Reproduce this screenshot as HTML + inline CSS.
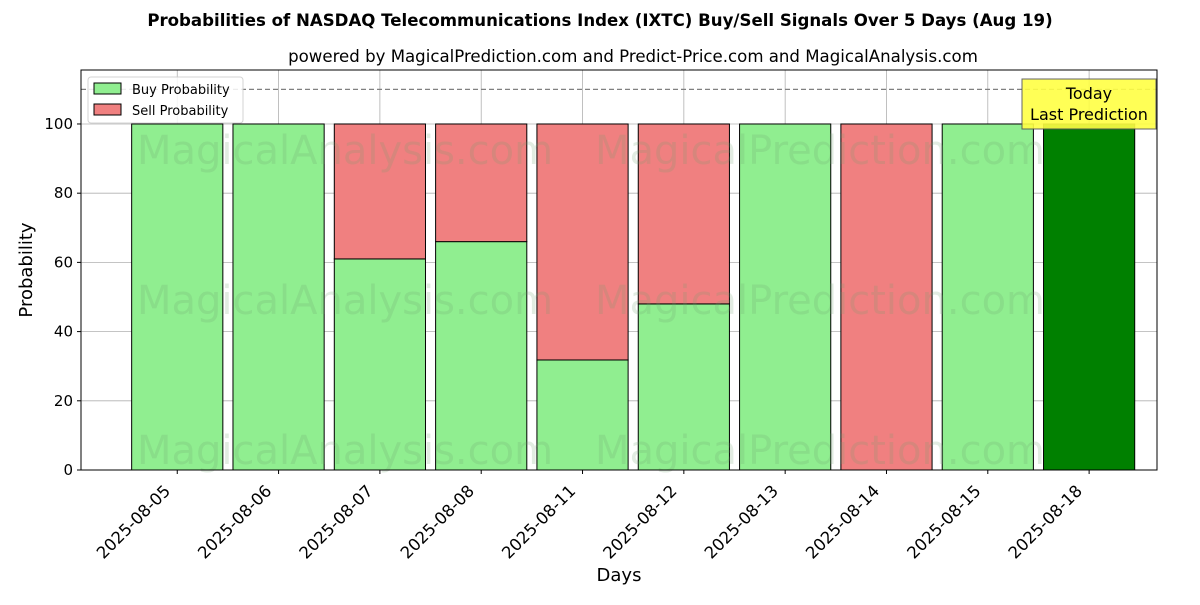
<!DOCTYPE html>
<html><head><meta charset="utf-8"><style>
body{margin:0;background:#fff;font-family:"Liberation Sans","DejaVu Sans",sans-serif}
svg text{font-family:"DejaVu Sans","Liberation Sans",sans-serif}
</style></head><body>
<svg id="chart" width="1200" height="600" xmlns="http://www.w3.org/2000/svg">
<text x="600" y="26" text-anchor="middle" font-size="16.6" font-weight="bold">Probabilities of NASDAQ Telecommunications Index (IXTC) Buy/Sell Signals Over 5 Days (Aug 19)</text>
<text x="633" y="62" text-anchor="middle" font-size="16.6">powered by MagicalPrediction.com and Predict-Price.com and MagicalAnalysis.com</text>
<g id="grid"></g><g id="bars"></g><g id="wm"></g><g id="axes"></g>
</svg>
<script>
const categories=["2025-08-05","2025-08-06","2025-08-07","2025-08-08","2025-08-11","2025-08-12","2025-08-13","2025-08-14","2025-08-15","2025-08-18"];
const buyValues=[100,100,61,66,31.8,48,100,0,100,100];
const sellValues=[0,0,39,34,68.2,52,0,100,0,0];
const yTicks=[0,20,40,60,80,100];
const NS="http://www.w3.org/2000/svg";
const L=81,R=1157,T=70,B=470,ymax=115.6,xmin=-0.95,xmax=9.67;
const xs=i=>L+(i-xmin)/(xmax-xmin)*(R-L);
const ys=v=>B-v/ymax*(B-T);
const bw=0.9*(R-L)/(xmax-xmin);
function mk(p,tag,a,txt){const e=document.createElementNS(NS,tag);for(const k in a)e.setAttribute(k,a[k]);if(txt!=null)e.textContent=txt;p.appendChild(e);return e;}
const g=document.getElementById('grid'),b=document.getElementById('bars'),w=document.getElementById('wm'),ax=document.getElementById('axes');
yTicks.forEach(t=>{const l=mk(g,'line',{x1:L,x2:R,y1:ys(t),y2:ys(t),stroke:'#b0b0b0','stroke-width':0.8});

const tx=mk(ax,'text',{x:L-8,y:ys(t)+5,'text-anchor':'end','font-size':15},t);

mk(ax,'line',{x1:L-4,x2:L,y1:ys(t),y2:ys(t),stroke:'#000'});});
categories.forEach((c,i)=>{const x=xs(i);
const l=mk(g,'line',{x1:x,x2:x,y1:T,y2:B,stroke:'#b0b0b0','stroke-width':0.8});

const last=i===categories.length-1;
const r1=mk(b,'rect',{x:x-bw/2,y:ys(buyValues[i]),width:bw,height:ys(0)-ys(buyValues[i]),fill:last?'#008000':'#90ee90',stroke:'#000','stroke-width':1});

const r2=mk(b,'rect',{x:x-bw/2,y:ys(buyValues[i]+sellValues[i]),width:bw,height:ys(buyValues[i])-ys(buyValues[i]+sellValues[i]),fill:'#f08080',stroke:'#000','stroke-width':1});

mk(ax,'line',{x1:x,x2:x,y1:B,y2:B+4,stroke:'#000'});
const ax0=x-6,ay0=B+22;
const tx=mk(ax,'text',{x:ax0,y:ay0,'text-anchor':'end','font-size':16.5,transform:`rotate(-45 ${ax0} ${ay0})`},c);
});
[[345,150],[820,150],[345,300],[820,300],[345,450],[820,450]].forEach((p,k)=>{const t=mk(w,'text',{x:p[0],y:p[1]+14,'text-anchor':'middle','font-size':40,fill:'rgba(110,160,110,0.2)'},k%2?'MagicalPrediction.com':'MagicalAnalysis.com');
});
const dl=mk(ax,'line',{x1:L,x2:R,y1:ys(110),y2:ys(110),stroke:'#808080','stroke-width':1.2,'stroke-dasharray':'5,3'});

const fr=mk(ax,'rect',{x:L,y:T,width:R-L,height:B-T,fill:'none',stroke:'#000','stroke-width':1});

const ann=mk(ax,'g',{});
mk(ann,'rect',{x:1022,y:79,width:134,height:50,fill:'#ffff44',stroke:'#555','stroke-width':1,opacity:0.9});
mk(ann,'text',{x:1089,y:99,'text-anchor':'middle','font-size':16},'Today');
mk(ann,'text',{x:1089,y:120,'text-anchor':'middle','font-size':16},'Last Prediction');
const lg=mk(ax,'g',{});
mk(lg,'rect',{x:88,y:77,width:155,height:46,fill:'#fff',stroke:'#ccc',rx:3,opacity:0.85});
const e1=mk(lg,'g',{});
mk(e1,'rect',{x:94,y:83,width:27,height:11,fill:'#90ee90',stroke:'#000'});
mk(e1,'text',{x:132,y:94,'font-size':13},'Buy Probability');
const e2=mk(lg,'g',{});
mk(e2,'rect',{x:94,y:104,width:27,height:11,fill:'#f08080',stroke:'#000'});
mk(e2,'text',{x:132,y:115,'font-size':13},'Sell Probability');
const xt=mk(ax,'text',{x:619,y:581,'text-anchor':'middle','font-size':18},'Days');
const yt=mk(ax,'text',{x:32,y:270,'text-anchor':'middle','font-size':18,transform:'rotate(-90 32 270)'},'Probability');
</script>
</body></html>
